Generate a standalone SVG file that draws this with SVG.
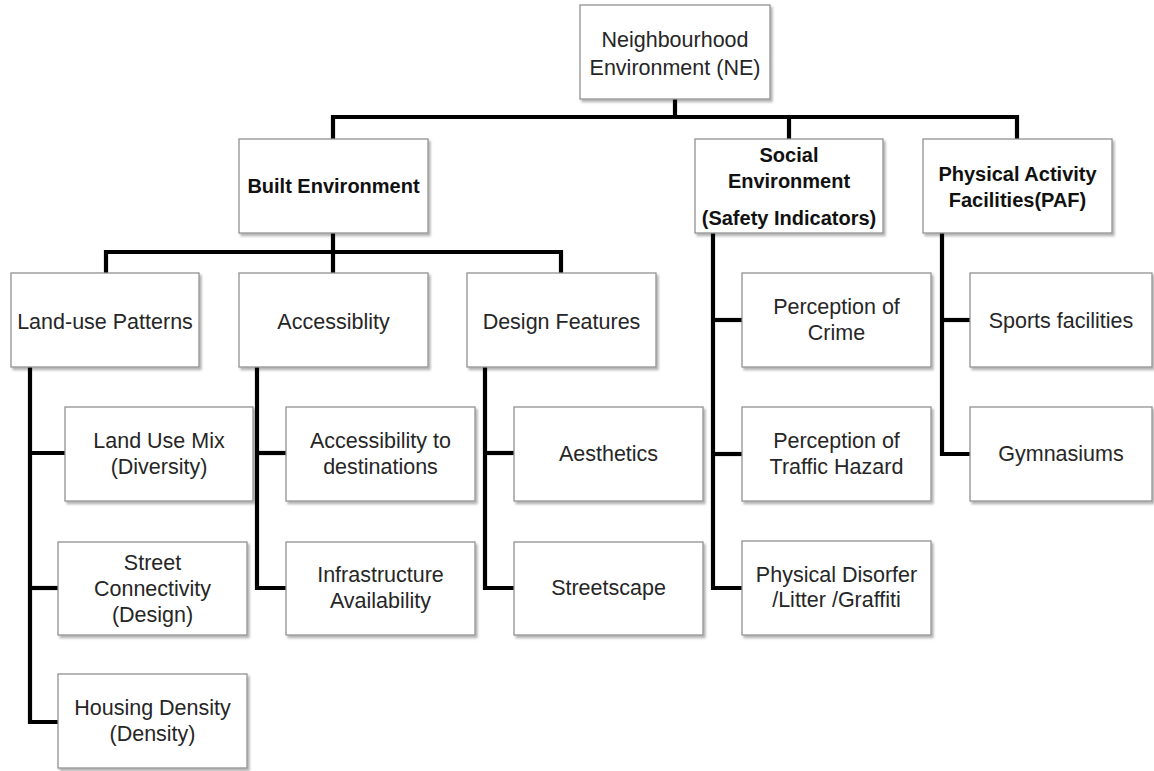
<svg xmlns="http://www.w3.org/2000/svg" width="1154" height="771" viewBox="0 0 1154 771">
<defs>
<filter id="sh" x="-10%" y="-10%" width="130%" height="130%">
<feDropShadow dx="2" dy="2.5" stdDeviation="1.2" flood-color="#000" flood-opacity="0.3"/>
</filter>
<style>
.box{fill:#fff;stroke:#929292;stroke-width:1.3;filter:url(#sh)}
.t{font-family:"Liberation Sans",Arial,sans-serif;font-size:21.5px;fill:#262626;text-anchor:middle}
.b{font-family:"Liberation Sans",Arial,sans-serif;font-size:20px;font-weight:bold;fill:#111;text-anchor:middle}
.c{fill:none;stroke:#000;stroke-width:4.2;stroke-linejoin:miter}
</style>
</defs>
<rect width="1154" height="771" fill="#fff"/>
<g id="connectors">
<path class="c" d="M675,99 V117"/>
<path class="c" d="M333,139 V117 H1017 V139"/>
<path class="c" d="M789,117 V139"/>
<path class="c" d="M333,233 V273"/>
<path class="c" d="M106,273 V252 H561 V273"/>
<path class="c" d="M30,367 V722 H58"/>
<path class="c" d="M30,453 H65"/>
<path class="c" d="M30,588 H58"/>
<path class="c" d="M257,367 V588 H286"/>
<path class="c" d="M257,453 H286"/>
<path class="c" d="M485,367 V588 H514"/>
<path class="c" d="M485,453 H514"/>
<path class="c" d="M713,233 V588 H742"/>
<path class="c" d="M713,320 H742"/>
<path class="c" d="M713,454 H742"/>
<path class="c" d="M942,233 V454 H970"/>
<path class="c" d="M942,320 H970"/>
</g>
<g id="root"><rect class="box" x="580" y="5" width="190" height="94"/>
<text class="t" x="675" y="47">Neighbourhood</text><text class="t" x="675" y="75">Environment (NE)</text></g>
<g id="built"><rect class="box" x="239" y="139" width="189" height="94"/>
<text class="b" x="333.5" y="193">Built Environment</text></g>
<g id="social"><rect class="box" x="695" y="139" width="188" height="94"/>
<text class="b" x="789" y="162">Social</text><text class="b" x="789" y="188">Environment</text><text class="b" x="789" y="225">(Safety Indicators)</text></g>
<g id="paf"><rect class="box" x="923" y="139" width="189" height="94"/>
<text class="b" x="1017.5" y="181">Physical Activity</text><text class="b" x="1017.5" y="207">Facilities(PAF)</text></g>
<g id="landuse"><rect class="box" x="11" y="273" width="188" height="94"/>
<text class="t" x="105" y="329">Land-use Patterns</text></g>
<g id="access"><rect class="box" x="239" y="273" width="189" height="94"/>
<text class="t" x="333.5" y="329">Accessiblity</text></g>
<g id="design"><rect class="box" x="467" y="273" width="189" height="94"/>
<text class="t" x="561.5" y="329">Design Features</text></g>
<g id="landusemix"><rect class="box" x="65" y="407" width="188" height="94"/>
<text class="t" x="159" y="448">Land Use Mix</text><text class="t" x="159" y="474">(Diversity)</text></g>
<g id="street"><rect class="box" x="58" y="542" width="189" height="93"/>
<text class="t" x="152.5" y="570">Street</text><text class="t" x="152.5" y="596">Connectivity</text><text class="t" x="152.5" y="622">(Design)</text></g>
<g id="housing"><rect class="box" x="58" y="674" width="189" height="94"/>
<text class="t" x="152.5" y="715">Housing Density</text><text class="t" x="152.5" y="741">(Density)</text></g>
<g id="accdest"><rect class="box" x="286" y="407" width="189" height="94"/>
<text class="t" x="380.5" y="448">Accessibility to</text><text class="t" x="380.5" y="474">destinations</text></g>
<g id="infra"><rect class="box" x="286" y="542" width="189" height="93"/>
<text class="t" x="380.5" y="582">Infrastructure</text><text class="t" x="380.5" y="608">Availability</text></g>
<g id="aesthetics"><rect class="box" x="514" y="407" width="189" height="94"/>
<text class="t" x="608.5" y="461">Aesthetics</text></g>
<g id="streetscape"><rect class="box" x="514" y="542" width="189" height="93"/>
<text class="t" x="608.5" y="595">Streetscape</text></g>
<g id="crime"><rect class="box" x="742" y="273" width="189" height="94"/>
<text class="t" x="836.5" y="314">Perception of</text><text class="t" x="836.5" y="340">Crime</text></g>
<g id="traffic"><rect class="box" x="742" y="407" width="189" height="94"/>
<text class="t" x="836.5" y="448">Perception of</text><text class="t" x="836.5" y="474">Traffic Hazard</text></g>
<g id="disorder"><rect class="box" x="742" y="541" width="189" height="94"/>
<text class="t" x="836.5" y="582">Physical Disorfer</text><text class="t" x="836.5" y="607">/Litter /Graffiti</text></g>
<g id="sports"><rect class="box" x="970" y="273" width="182" height="94"/>
<text class="t" x="1061" y="328">Sports facilities</text></g>
<g id="gym"><rect class="box" x="970" y="407" width="182" height="94"/>
<text class="t" x="1061" y="461">Gymnasiums</text></g>
</svg>
